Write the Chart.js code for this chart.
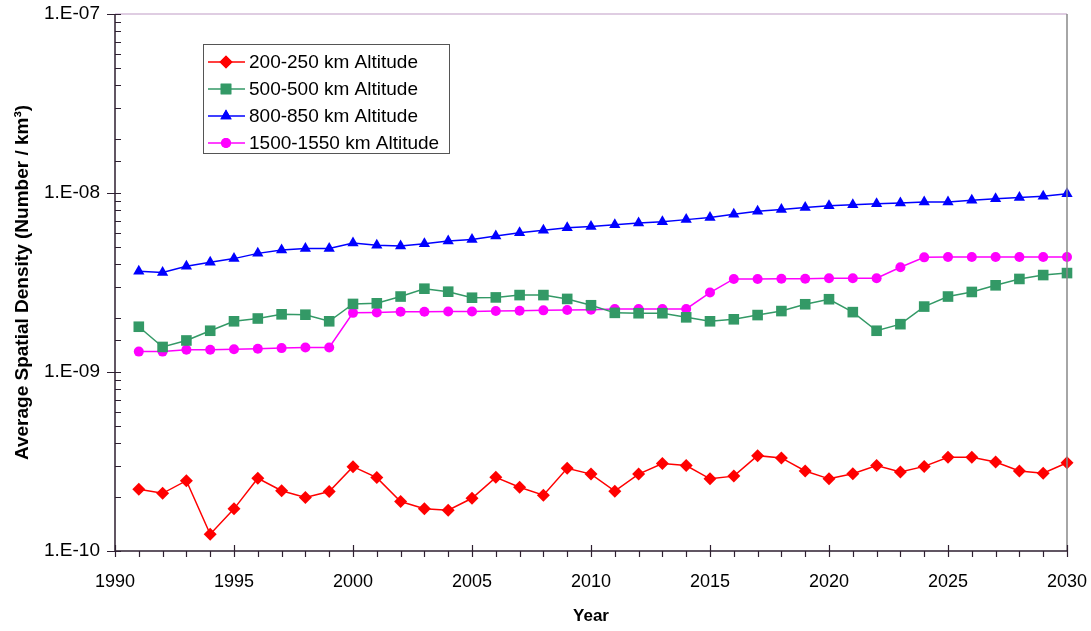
<!DOCTYPE html>
<html>
<head>
<meta charset="utf-8">
<script src="https://cdn.jsdelivr.net/npm/chart.js@4/dist/chart.umd.min.js"></script>
<style>
  html, body { margin: 0; padding: 0; background: #fff; }
  #wrap { width: 1091px; height: 631px; position: relative; }
</style>
</head>
<body>
<div id="wrap"><canvas id="density-chart"></canvas></div>
<script>
// years on the x axis
const years = [1991, 1992, 1993, 1994, 1995, 1996, 1997, 1998, 1999, 2000,
               2001, 2002, 2003, 2004, 2005, 2006, 2007, 2008, 2009, 2010,
               2011, 2012, 2013, 2014, 2015, 2016, 2017, 2018, 2019, 2020,
               2021, 2022, 2023, 2024, 2025, 2026, 2027, 2028, 2029, 2030];

// spatial density, number / km^3
const alt200 = [2.21e-10, 2.10e-10, 2.47e-10, 1.24e-10, 1.72e-10, 2.55e-10, 2.17e-10, 1.99e-10, 2.15e-10, 2.96e-10,
                2.57e-10, 1.89e-10, 1.72e-10, 1.69e-10, 1.97e-10, 2.58e-10, 2.27e-10, 2.05e-10, 2.90e-10, 2.69e-10,
                2.16e-10, 2.69e-10, 3.08e-10, 3.00e-10, 2.53e-10, 2.62e-10, 3.41e-10, 3.31e-10, 2.80e-10, 2.53e-10,
                2.70e-10, 3.00e-10, 2.76e-10, 2.97e-10, 3.34e-10, 3.34e-10, 3.14e-10, 2.80e-10, 2.72e-10, 3.11e-10];
const alt500 = [1.79e-9, 1.38e-9, 1.50e-9, 1.70e-9, 1.92e-9, 1.99e-9, 2.10e-9, 2.09e-9, 1.92e-9, 2.40e-9,
                2.42e-9, 2.64e-9, 2.92e-9, 2.81e-9, 2.60e-9, 2.61e-9, 2.69e-9, 2.69e-9, 2.56e-9, 2.36e-9,
                2.14e-9, 2.13e-9, 2.13e-9, 2.02e-9, 1.92e-9, 1.97e-9, 2.08e-9, 2.19e-9, 2.39e-9, 2.55e-9,
                2.16e-9, 1.70e-9, 1.85e-9, 2.32e-9, 2.64e-9, 2.80e-9, 3.05e-9, 3.31e-9, 3.48e-9, 3.57e-9];
const alt800 = [3.66e-9, 3.60e-9, 3.90e-9, 4.10e-9, 4.30e-9, 4.60e-9, 4.80e-9, 4.90e-9, 4.90e-9, 5.25e-9,
                5.10e-9, 5.05e-9, 5.20e-9, 5.40e-9, 5.50e-9, 5.75e-9, 6.00e-9, 6.20e-9, 6.40e-9, 6.50e-9,
                6.65e-9, 6.80e-9, 6.90e-9, 7.10e-9, 7.30e-9, 7.60e-9, 7.90e-9, 8.10e-9, 8.30e-9, 8.50e-9,
                8.60e-9, 8.70e-9, 8.80e-9, 8.90e-9, 8.90e-9, 9.10e-9, 9.30e-9, 9.45e-9, 9.60e-9, 9.90e-9];
const alt1500 = [1.30e-9, 1.30e-9, 1.33e-9, 1.33e-9, 1.34e-9, 1.35e-9, 1.36e-9, 1.37e-9, 1.37e-9, 2.14e-9,
                 2.15e-9, 2.17e-9, 2.17e-9, 2.18e-9, 2.18e-9, 2.19e-9, 2.20e-9, 2.21e-9, 2.22e-9, 2.23e-9,
                 2.25e-9, 2.25e-9, 2.25e-9, 2.25e-9, 2.78e-9, 3.31e-9, 3.31e-9, 3.32e-9, 3.32e-9, 3.34e-9,
                 3.34e-9, 3.34e-9, 3.85e-9, 4.37e-9, 4.39e-9, 4.39e-9, 4.39e-9, 4.39e-9, 4.39e-9, 4.39e-9];

const seriesNames = ["200-250 km Altitude", "500-500 km Altitude", "800-850 km Altitude", "1500-1550 km Altitude"];
const seriesData = [alt200, alt500, alt800, alt1500];

const styles = [
    {color: '#ff0000', pointStyle: 'rectRot', radius: 6.5},
    {color: '#339966', pointStyle: 'rect', radius: 7.5},
    {color: '#0000ff', pointStyle: 'triangle', radius: 6.5},
    {color: '#ff00ff', pointStyle: 'circle', radius: 5}
];

const FONT = "'Liberation Sans', Arial, sans-serif";

function isDecade (v) {
    const l = Math.log10(v);
    return Math.abs(l - Math.round(l)) < 1e-6;
}

// axis lines, tick marks, frame and the boxed legend
const framePlugin = {
    id: 'frame',
    afterDraw (chart) {
        const ctx = chart.ctx;
        const area = chart.chartArea;
        const xs = chart.scales.x;
        const ys = chart.scales.y;
        ctx.save();

        // top and right frame
        ctx.lineWidth = 1.5;
        ctx.strokeStyle = '#d4bcd8';
        ctx.beginPath();
        ctx.moveTo(area.left, area.top);
        ctx.lineTo(area.right, area.top);
        ctx.stroke();
        ctx.strokeStyle = '#888888';
        ctx.beginPath();
        ctx.moveTo(area.right, area.top);
        ctx.lineTo(area.right, area.bottom);
        ctx.stroke();

        // axes
        ctx.strokeStyle = '#2e1f30';
        ctx.lineWidth = 1.5;
        ctx.beginPath();
        ctx.moveTo(area.left, area.top);
        ctx.lineTo(area.left, area.bottom);
        ctx.lineTo(area.right, area.bottom);
        ctx.stroke();

        ctx.lineWidth = 1.2;
        ctx.beginPath();
        ys.ticks.forEach(t => {
            const py = Math.round(ys.getPixelForValue(t.value)) + 0.5;
            if (isDecade(t.value)) {
                ctx.moveTo(area.left - 8, py);
            } else {
                ctx.moveTo(area.left, py);
            }
            ctx.lineTo(area.left + 6, py);
        });
        for (let yr = xs.min; yr <= xs.max; yr++) {
            const px = Math.round(xs.getPixelForValue(yr)) + 0.5;
            if (yr % 5 == 0) {
                ctx.moveTo(px, area.bottom - 6);
            } else {
                ctx.moveTo(px, area.bottom);
            }
            ctx.lineTo(px, area.bottom + 6);
        }
        ctx.stroke();

        // legend box
        const lx = area.left + 88, ly = area.top + 30, lw = 246, lh = 109;
        ctx.fillStyle = '#ffffff';
        ctx.fillRect(lx, ly, lw, lh);
        ctx.strokeStyle = '#555555';
        ctx.lineWidth = 1;
        ctx.strokeRect(lx + 0.5, ly + 0.5, lw, lh);
        ctx.font = '19px ' + FONT;
        ctx.textBaseline = 'middle';
        seriesNames.forEach((name, i) => {
            const ry = ly + 18 + i * 27;
            const st = styles[i];
            ctx.strokeStyle = st.color;
            ctx.lineWidth = 1.5;
            ctx.beginPath();
            ctx.moveTo(lx + 5, ry);
            ctx.lineTo(lx + 42, ry);
            ctx.stroke();
            ctx.fillStyle = st.color;
            Chart.helpers.drawPoint(ctx, {pointStyle: st.pointStyle, radius: st.radius, borderWidth: 0}, lx + 23, ry);
            ctx.fill();
            ctx.fillStyle = '#000000';
            ctx.fillText(name, lx + 46, ry + 1);
        });

        ctx.restore();
    }
};

new Chart(
    document.getElementById('density-chart'),
    {
        type: 'line',
        data: {
            datasets: seriesNames.map((name, i) => ({
                label: name,
                data: years.map((yr, j) => ({x: yr, y: seriesData[i][j]})),
                borderColor: styles[i].color,
                backgroundColor: styles[i].color,
                pointBackgroundColor: styles[i].color,
                pointBorderColor: styles[i].color,
                pointBorderWidth: 0,
                pointStyle: styles[i].pointStyle,
                pointRadius: styles[i].radius,
                borderWidth: 1.5,
                tension: 0,
                clip: false
            }))
        },
        options: {
            responsive: true,
            maintainAspectRatio: false,
            animation: false,
            layout: {padding: {top: 14, right: 24, left: 0, bottom: 0}},
            plugins: {
                legend: {display: false},
                tooltip: {enabled: false}
            },
            scales: {
                x: {
                    type: 'linear',
                    min: 1990,
                    max: 2030,
                    border: {display: false},
                    grid: {display: false, drawTicks: false},
                    ticks: {
                        stepSize: 5,
                        padding: 20,
                        color: '#000',
                        font: {family: FONT, size: 18},
                        maxRotation: 0,
                        callback: v => String(v)
                    },
                    title: {
                        display: true,
                        text: 'Year',
                        color: '#000',
                        font: {family: FONT, size: 17, weight: 'bold'},
                        padding: {top: 0, bottom: 4}
                    },
                    afterFit: s => {
                        s.height = 80;
                        s.paddingLeft = 0;
                        s.paddingRight = 0;
                    }
                },
                y: {
                    type: 'logarithmic',
                    min: 1e-10,
                    max: 1e-7,
                    border: {display: false},
                    grid: {display: false, drawTicks: false},
                    ticks: {
                        autoSkip: false,
                        padding: 15,
                        color: '#000',
                        font: {family: FONT, size: 19},
                        callback: v => {
                            if (!isDecade(v)) return '';
                            const e = Math.round(Math.log10(v));
                            return '1.E-' + String(-e).padStart(2, '0');
                        }
                    },
                    title: {
                        display: true,
                        text: 'Average Spatial Density (Number / km³)',
                        color: '#000',
                        font: {family: FONT, size: 19, weight: 'bold'},
                        padding: {top: 11, bottom: 0}
                    },
                    afterFit: s => {
                        s.width = 115;
                        s.paddingTop = 0;
                        s.paddingBottom = 0;
                    }
                }
            }
        },
        plugins: [framePlugin]
    }
);
</script>
</body>
</html>
